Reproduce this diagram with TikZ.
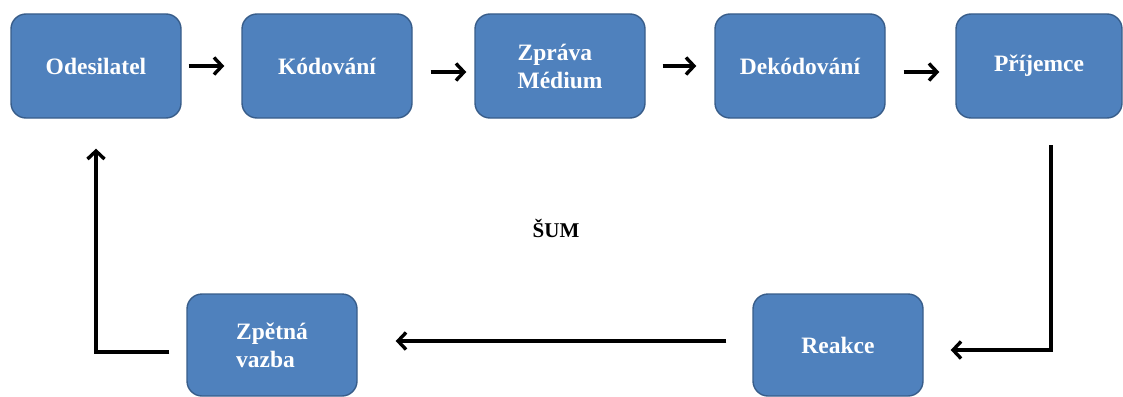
\documentclass[tikz,border=0pt]{standalone}
\usepackage{fontspec}
\setmainfont{Liberation Serif}
\usetikzlibrary{arrows.meta}
\definecolor{boxblue}{HTML}{4F81BD}
\definecolor{boxedge}{HTML}{385D8A}
\begin{document}
\begin{tikzpicture}[x=1pt, y=-1pt,
		krok/.style={rectangle, rounded corners=15pt, fill=boxblue, draw=boxedge, line width=1.4pt,
			text=white, font=\fontsize{23.5}{28}\selectfont\bfseries, align=left,
			minimum width=170pt, minimum height=104pt, inner sep=0pt},
		sipka/.style={line width=3.4pt, -{Straight Barb[length=8pt, width=17pt]}}]
	% 1. Okraje obrázku
	\useasboundingbox (0,0) rectangle (1123,396);
	% 2. Horní řada bloků
	\node[krok] (odes) at (96,66) {Odesilatel};
	\node[krok] (kod) at (327,66) {Kódování};
	\node[krok] (zprava) at (560,66) {Zpráva\\Médium};
	\node[krok] (dekod) at (800,66) {Dekódování};
	\node[krok, minimum width=166pt] (prij) at (1039,66) {Příjemce};
	% 3. Dolní řada bloků
	\node[krok, minimum height=102pt] (zpet) at (272,345) {Zpětná\\vazba};
	\node[krok, minimum height=102pt] (reak) at (838,345) {Reakce};
	% 4. Šum uprostřed
	\node[font=\fontsize{21}{25}\selectfont\bfseries] (sum) at (556,228) {ŠUM};
	% 5. Šipky mezi bloky nahoře
	\draw[sipka, shorten <=7pt, shorten >=17pt] (odes) -- (kod);
	\draw[sipka, shorten <=18pt, shorten >=8pt] ([yshift=-6pt]kod.east) -- ([yshift=-6pt]zprava.west);
	\draw[sipka, shorten <=17pt, shorten >=18pt] (zprava) -- (dekod);
	\draw[sipka, shorten <=18pt, shorten >=16pt] ([yshift=-6pt]dekod.east) -- ([yshift=-6pt]prij.west);
	% 6. Zpětná smyčka
	\coordinate (prijOut) at (1051,145);
	\draw[sipka, shorten >=27pt] (prijOut) |- ([yshift=-5pt]reak.east);
	\draw[sipka, shorten <=26pt, shorten >=38pt] ([yshift=4pt]reak.west) -- ([yshift=4pt]zpet.east);
	\draw[sipka, shorten <=17pt, shorten >=30pt] ([yshift=-7pt]zpet.west) -| (odes.south);
\end{tikzpicture}
\end{document}
